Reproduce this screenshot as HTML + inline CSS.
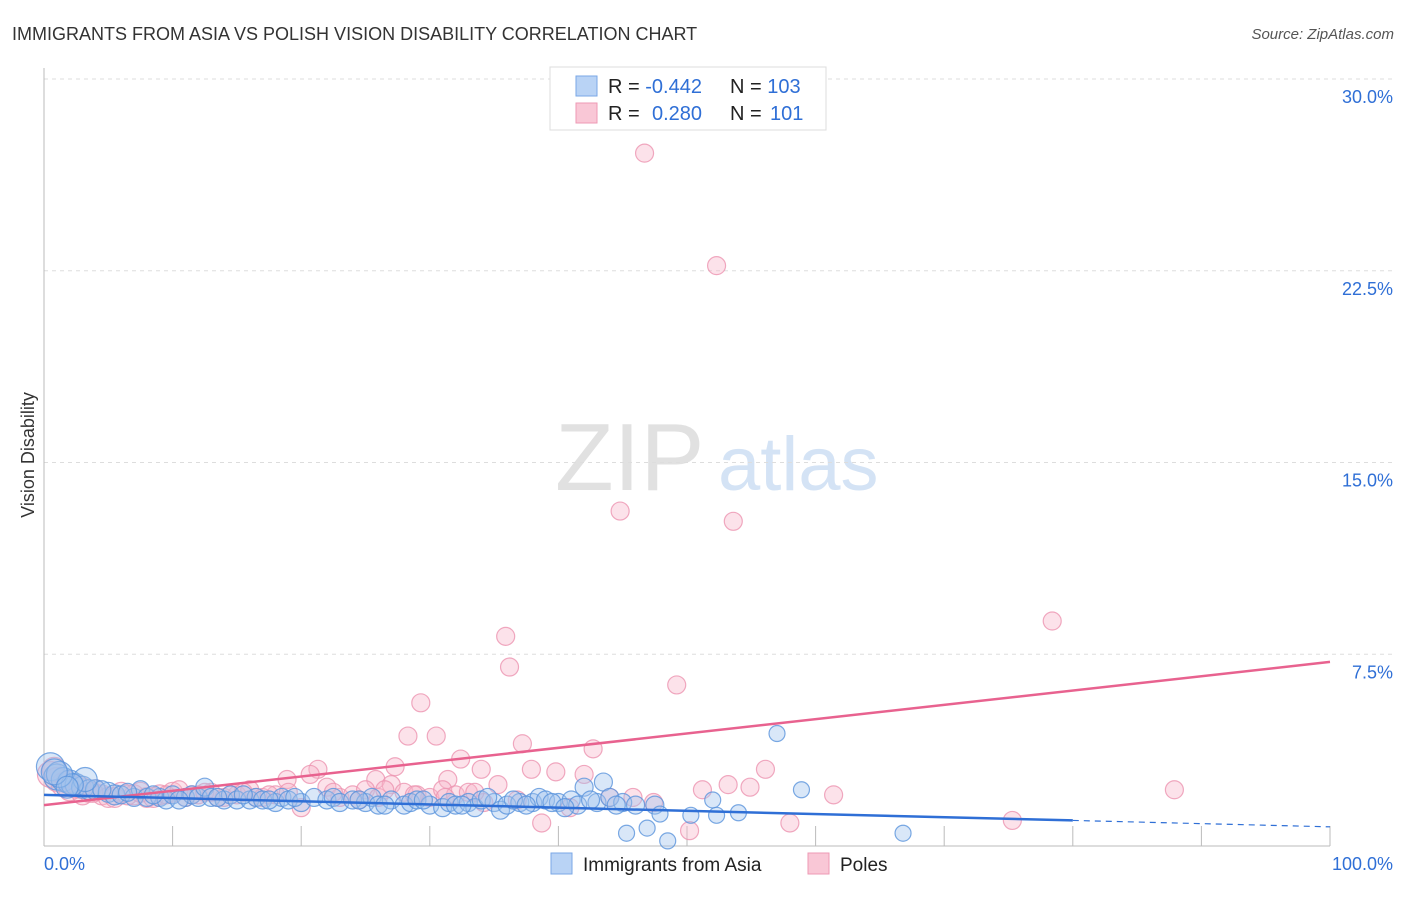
<!DOCTYPE html>
<html><head><meta charset="utf-8"><style>
body{margin:0;background:#fff;font-family:"Liberation Sans",sans-serif;}
svg text{font-family:"Liberation Sans",sans-serif;}
</style></head><body>
<svg id="chart" width="1406" height="892" xmlns="http://www.w3.org/2000/svg">
<text x="12" y="40" font-size="18" fill="#333">IMMIGRANTS FROM ASIA VS POLISH VISION DISABILITY CORRELATION CHART</text>
<text x="1394" y="39" font-size="15" fill="#555" font-style="italic" text-anchor="end">Source: ZipAtlas.com</text>
<g>
<text x="555" y="490" font-size="96" font-family="Liberation Serif,serif" fill="#d4d4d4" fill-opacity="0.7">ZIP</text>
<text x="718" y="490" font-size="76" fill="#b8d0ee" fill-opacity="0.6">atlas</text>
</g>
<g id="grid"></g>
<g id="axes"></g>
<g id="pts"></g>
<g id="lines"></g>
<text x="34" y="455" font-size="18" fill="#333" text-anchor="middle" transform="rotate(-90 34 455)">Vision Disability</text>
<g>
<rect x="550" y="67" width="276" height="63" fill="#fff" stroke="#ddd"/>
<rect x="576" y="76" width="21" height="20" fill="#b9d3f5" stroke="#7aa7e6"/>
<rect x="576" y="103" width="21" height="20" fill="#f9c7d6" stroke="#ee9ab4"/>
<text x="608" y="93" font-size="20" fill="#222">R = <tspan fill="#2f6fd6">-0.442</tspan></text>
<text x="730" y="93" font-size="20" fill="#222">N = <tspan fill="#2f6fd6">103</tspan></text>
<text x="608" y="120" font-size="20" fill="#222">R = <tspan fill="#2f6fd6" x="652">0.280</tspan></text>
<text x="730" y="120" font-size="20" fill="#222">N = <tspan fill="#2f6fd6" x="770">101</tspan></text>
</g>
<g>
<rect x="551" y="853" width="21" height="21" fill="#b9d3f5" stroke="#7aa7e6"/>
<text x="583" y="871" font-size="19" fill="#222">Immigrants from Asia</text>
<rect x="808" y="853" width="21" height="21" fill="#f9c7d6" stroke="#ee9ab4"/>
<text x="840" y="871" font-size="19" fill="#222">Poles</text>
</g>
</svg>
<script>
const yTicks=[7.5,15.0,22.5,30.0];
const xTickLabels=["0.0%","100.0%"];
const blueX=[0.5,1,1.5,2,2.5,3,3.5,4,5,5.5,6,7,7.5,8,9,9.5,10,11,11.5,12,12.5,13,14,14.5,15,16,16.5,17,18,18.5,19,20,21,22,22.5,23,24,25,25.5,26,27,28,28.5,29,30,31,31.5,32,33,33.5,34,35,35.5,36,37,38,38.5,39,40,41,42,43,43.5,44,45,45.3,46,46.9,47.5,47.9,48.5,50.3,52,52.3,54,57,58.9,66.8,36.5,37.5,39.5,41.5,42.5,44.5,24.5,26.5,29.5,32.5,34.5,19.5,17.5,15.5,13.5,10.5,8.5,6.5,4.5,3.2,2.2,1.2,0.8,1.8,40.5];
const blueY=[3.1,2.7,2.6,2.5,2.4,2.3,2.2,2.2,2.1,2.0,2.0,1.9,2.2,1.9,1.9,1.8,2.0,1.9,2.0,1.9,2.3,1.9,1.8,2.0,1.8,1.8,1.9,1.8,1.7,1.9,1.8,1.7,1.9,1.8,1.9,1.7,1.8,1.7,1.9,1.6,1.8,1.6,1.7,1.8,1.6,1.5,1.7,1.6,1.7,1.5,1.8,1.7,1.4,1.6,1.7,1.7,1.9,1.8,1.7,1.8,2.3,1.7,2.5,1.9,1.7,0.5,1.6,0.7,1.6,1.25,0.2,1.2,1.8,1.2,1.3,4.4,2.2,0.5,1.8,1.6,1.7,1.6,1.8,1.6,1.8,1.6,1.8,1.6,1.9,1.9,1.8,2.0,1.9,1.8,2.0,2.1,2.2,2.6,2.4,2.8,2.9,2.3,1.5];
const blueR=[14,13,12,12,11,11,10,10,10,10,9,9,9,9,9,9,9,9,9,9,9,9,9,9,9,9,9,9,9,9,9,9,9,9,9,9,9,9,9,9,9,9,9,9,9,9,9,9,9,9,9,9,9,9,9,9,9,9,9,9,9,9,9,9,9,8,9,8,9,8,8,8,8,8,8,8,8,8,9,9,9,9,9,9,9,9,9,9,9,9,9,9,9,9,9,9,9,12,11,13,13,11,9];
const pinkX=[46.7,52.3,44.8,53.6,78.4,35.9,36.2,49.2,29.3,28.3,30.5,32.4,37.2,42.7,56.1,53.2,54.9,51.2,61.4,87.9,58,75.3,50.2,38.7,39.8,42,37.9,34,27.3,21.3,20.7,18.9,25.8,31.4,35.3,45.8,47.4,40.9,34.2,0.5,1,1.5,2,2.5,3,3.5,4,4.5,5,6,7,8,9,10,11,12,13,14,15,16,17,18,19,20,22,23,24,25,26,27,28,29,30,31,32,33,0.8,1.8,2.8,3.8,5.5,6.5,7.5,8.5,9.5,10.5,11.5,12.5,13.5,14.5,15.5,16.5,17.5,22.5,24.5,26.5,28.8,31.2,33.5,36.8,44];
const pinkY=[27.1,22.7,13.1,12.7,8.8,8.2,7.0,6.3,5.6,4.3,4.3,3.4,4.0,3.8,3.0,2.4,2.3,2.2,2.0,2.2,0.9,1.0,0.6,0.9,2.9,2.8,3.0,3.0,3.1,3.0,2.8,2.6,2.6,2.6,2.4,1.9,1.7,1.5,1.7,2.8,2.6,2.4,2.2,2.3,2.0,2.1,2.2,2.0,1.9,2.1,2.0,1.9,2.0,2.1,1.9,2.0,2.1,1.9,2.0,2.2,1.9,2.0,2.1,1.5,2.3,1.9,2.0,2.2,1.9,2.4,2.1,2.0,1.9,2.2,2.0,2.1,3.0,2.5,2.3,2.1,1.9,2.0,2.1,1.9,2.0,2.2,2.0,2.1,1.9,2.0,2.1,1.9,2.0,2.1,1.8,2.2,2.0,1.9,2.1,1.8,1.9];
const pinkR=[9,9,9,9,9,9,9,9,9,9,9,9,9,9,9,9,9,9,9,9,9,9,9,9,9,9,9,9,9,9,9,9,9,9,9,9,9,9,9,13,12,12,11,11,10,10,10,10,10,10,10,10,10,10,9,9,9,9,9,9,9,9,9,9,9,9,9,9,9,9,9,9,9,9,9,9,12,11,11,10,10,10,10,10,9,9,9,9,9,9,9,9,9,9,9,9,9,9,9,9,9];
const pinkTrend=[1.6,7.2];
const blueTrend=[2.0,0.75];
const blueSolidEnd=80;

const X0=44,X1=1330,Y0=846,Y30=79;
const xs=v=>X0+v/100*(X1-X0);
const ys=v=>Y0-v/30*(Y0-Y30);
const NS="http://www.w3.org/2000/svg";
function mk(tag,attrs,parent){const e=document.createElementNS(NS,tag);for(const k in attrs)e.setAttribute(k,attrs[k]);parent.appendChild(e);return e;}
const grid=document.getElementById('grid'),axes=document.getElementById('axes'),pts=document.getElementById('pts'),lines=document.getElementById('lines');
yTicks.forEach(t=>{
  const l=mk('line',{x1:X0,x2:1395,y1:ys(t),y2:ys(t),stroke:'#ddd','stroke-dasharray':'4,4'},grid);
  
  
  const tx=mk('text',{x:1393,y:ys(t)+24,'font-size':18,fill:'#2f6fd6','text-anchor':'end'},grid);
  tx.textContent=t.toFixed(1)+'%';
  
  
});
const yax=mk('line',{x1:X0,x2:X0,y1:68,y2:Y0,stroke:'#bbb'},axes);


const xax=mk('line',{x1:X0,x2:X1,y1:Y0,y2:Y0,stroke:'#bbb'},axes);


for(let i=1;i<=10;i++){
  const t=mk('line',{x1:xs(i*10),x2:xs(i*10),y1:Y0-20,y2:Y0,stroke:'#bbb'},axes);
  
  
}
const xl0=mk('text',{x:44,y:870,'font-size':18,fill:'#2f6fd6'},axes);xl0.textContent=xTickLabels[0];


const xl1=mk('text',{x:1393,y:870,'font-size':18,fill:'#2f6fd6','text-anchor':'end'},axes);xl1.textContent=xTickLabels[1];


pinkX.forEach((v,i)=>{
  const c=mk('circle',{cx:xs(v),cy:ys(pinkY[i]),r:pinkR[i],fill:'#f7b6ca','fill-opacity':0.4,stroke:'#ec94b0','stroke-opacity':0.8,'stroke-width':1.2},pts);
  
  
});
blueX.forEach((v,i)=>{
  const c=mk('circle',{cx:xs(v),cy:ys(blueY[i]),r:blueR[i],fill:'#9fc2ee','fill-opacity':0.4,stroke:'#5a93dc','stroke-opacity':0.8,'stroke-width':1.2},pts);
  
  
});
const pl=mk('line',{x1:xs(0),y1:ys(pinkTrend[0]),x2:xs(100),y2:ys(pinkTrend[1]),stroke:'#e8628f','stroke-width':2.5},lines);


const bAt=v=>blueTrend[0]+(blueTrend[1]-blueTrend[0])*v/100;
const bl=mk('line',{x1:xs(0),y1:ys(bAt(0)),x2:xs(blueSolidEnd),y2:ys(bAt(blueSolidEnd)),stroke:'#2f6fd6','stroke-width':2.5},lines);


const bd=mk('line',{x1:xs(blueSolidEnd),y1:ys(bAt(blueSolidEnd)),x2:xs(100),y2:ys(bAt(100)),stroke:'#2f6fd6','stroke-width':1.2,'stroke-dasharray':'6,5'},lines);


</script>
</body></html>
